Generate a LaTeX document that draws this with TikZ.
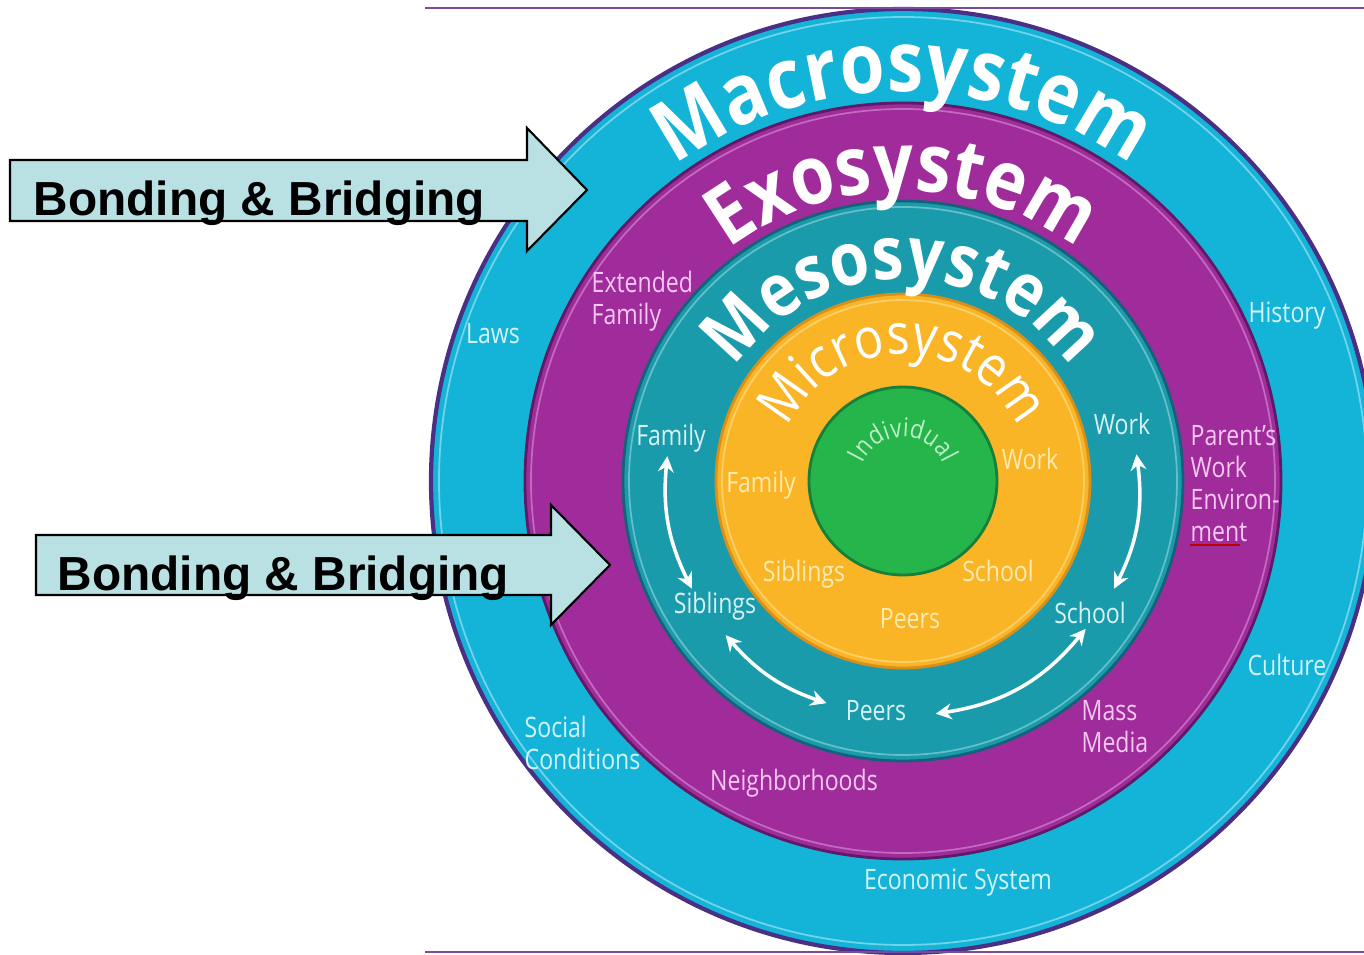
\documentclass[tikz,border=0pt]{standalone}
\usepackage{fontspec}
\setsansfont{Liberation Sans}
\newfontfamily\ringfont[FakeStretch=0.82]{Open Sans}
\newfontfamily\titlefont[FakeStretch=0.86]{Open Sans}
\usetikzlibrary{decorations.text,arrows.meta}

\definecolor{macroc}{HTML}{14B4D9}
\definecolor{macroedge}{HTML}{4B2F85}
\definecolor{exoc}{HTML}{A02C9C}
\definecolor{exoedge}{HTML}{5E1A66}
\definecolor{mesoc}{HTML}{1A9BAB}
\definecolor{mesoedge}{HTML}{17607A}
\definecolor{microc}{HTML}{FAB526}
\definecolor{microedge}{HTML}{D98F1A}
\definecolor{indc}{HTML}{25B54B}
\definecolor{indedge}{HTML}{16803A}
\definecolor{macrotxt}{HTML}{D2F3F8}
\definecolor{exotxt}{HTML}{F6C8F1}
\definecolor{mesotxt}{HTML}{D6F2F4}
\definecolor{microtxt}{HTML}{FDEBB0}
\definecolor{indtxt}{HTML}{BDEFC8}
\definecolor{bbfill}{HTML}{B9E0E3}
\definecolor{rulec}{HTML}{7B4A9F}

% curved title: radius, font, text
\newcommand{\ringtitle}[3]{%
  \path[decorate,decoration={text along path,text align=center,
    text={|\titlefont#2|#3}}]
    (c) ++(170:#1) arc[start angle=170,end angle=10,radius=#1];}

\begin{document}
\begin{tikzpicture}[
  lbl/.style={font=\ringfont\fontsize{8}{9.1}\selectfont,inner sep=0pt,align=left},
  link/.style={white,line width=1pt,{Stealth[length=4.5pt,width=4.5pt]}-{Stealth[length=4.5pt,width=4.5pt]}},
  bigarrow/.style={fill=bbfill,draw=black,line width=0.6pt},
  bbtext/.style={font=\sffamily\bfseries\fontsize{13.6}{16}\selectfont,inner sep=0pt,anchor=base west}]
\useasboundingbox (0,0) rectangle (13.64,9.55);
\coordinate (c) at (9.03,4.74);

% rings
\fill[macroc,draw=macroedge,line width=1.2pt] (c) circle[radius=4.72];
\draw[macrotxt!50!macroc,line width=0.5pt] (c) circle[radius=4.64];
\fill[exoc,draw=exoedge,line width=0.8pt] (c) circle[radius=3.78];
\draw[exotxt!40!exoc,line width=0.5pt] (c) circle[radius=3.72];
\fill[mesoc,draw=mesoedge,line width=0.8pt] (c) circle[radius=2.80];
\draw[mesotxt!40!mesoc,line width=0.5pt] (c) circle[radius=2.74];
\fill[microc,draw=microedge,line width=0.8pt] (c) circle[radius=1.87];
\draw[microtxt!50!microc,line width=0.5pt] (c) circle[radius=1.81];
\fill[indc,draw=indedge,line width=0.8pt] (c) circle[radius=0.94];

% titles
\ringtitle{3.89}{\bfseries\fontsize{24}{25}\selectfont\color{white}}{Macrosystem}
\ringtitle{2.90}{\bfseries\fontsize{23.2}{24}\selectfont\color{white}}{Exosystem}
\ringtitle{2.02}{\bfseries\fontsize{21}{22}\selectfont\color{white}}{Mesosystem}
\ringtitle{1.27}{\fontsize{16}{17}\selectfont\color{white}}{Microsystem}
\ringtitle{0.44}{\fontsize{7.4}{8}\selectfont\color{indtxt}}{Individual}

% macrosystem
\node[lbl,macrotxt] (laws) at (4.93,6.21) {Laws};
\node[lbl,macrotxt] (history) at (12.87,6.39) {History};
\node[lbl,macrotxt] (culture) at (12.87,2.90) {Culture};
\node[lbl,macrotxt,anchor=west] (social) at (5.24,2.12) {Social\\Conditions};
\node[lbl,macrotxt] (econ) at (9.58,0.72) {Economic System};

% exosystem
\node[lbl,exotxt,anchor=west] (extfam) at (5.91,6.54) {Extended\\Family};
\node[lbl,exotxt,anchor=west] (parent) at (11.90,4.71) {Parent’s\\Work\\Environ-\\ment};
\node[lbl,exotxt,anchor=west] (mass) at (10.81,2.285) {Mass\\Media};
\node[lbl,exotxt] (neigh) at (7.94,1.72) {Neighborhoods};
\draw[red!75!black,line width=0.5pt] (parent.south west) ++(0,-0.02) -- ++(0.5,0);

% mesosystem
\node[lbl,mesotxt] (famM) at (6.71,5.17) {Family};
\node[lbl,mesotxt] (sibM) at (7.15,3.49) {Siblings};
\node[lbl,mesotxt] (peerM) at (8.76,2.44) {Peers};
\node[lbl,mesotxt] (schM) at (10.90,3.42) {School};
\node[lbl,mesotxt] (workM) at (11.22,5.31) {Work};

% microsystem
\node[lbl,microtxt] (famI) at (7.61,4.70) {Family};
\node[lbl,microtxt] (sibI) at (8.04,3.81) {Siblings};
\node[lbl,microtxt] (peerI) at (9.10,3.36) {Peers};
\node[lbl,microtxt] (schI) at (9.98,3.84) {School};
\node[lbl,microtxt] (workI) at (10.30,4.96) {Work};

% links between the mesosystem settings
\path (c) ++(174:2.37) coordinate (a1) (c) ++(207:2.37) coordinate (a2)
      (c) ++(221:2.35) coordinate (b1) (c) ++(251:2.35) coordinate (b2)
      (c) ++(278:2.35) coordinate (d1) (c) ++(321:2.35) coordinate (d2)
      (c) ++(333:2.37) coordinate (e1) (c) ++(6.5:2.35) coordinate (e2);
\draw[link] (a1) to[bend right=16] (a2);
\draw[link] (b1) to[bend right=15] (b2);
\draw[link] (d1) to[bend right=21] (d2);
\draw[link] (e1) to[bend right=17] (e2);

% rules
\draw[rulec,line width=0.6pt] (4.25,9.47) -- (13.64,9.47);
\draw[rulec,line width=0.6pt] (4.25,0.03) -- (13.64,0.03);

% bonding arrows
\draw[bigarrow] (0.10,7.95) -- (5.27,7.95) -- (5.27,8.27) -- (5.87,7.65)
  -- (5.27,7.04) -- (5.27,7.34) -- (0.10,7.34) -- cycle;
\node[bbtext] (bb1) at (0.33,7.39) {Bonding \& Bridging};
\draw[bigarrow] (0.36,4.20) -- (5.51,4.20) -- (5.51,4.50) -- (6.10,3.90)
  -- (5.51,3.30) -- (5.51,3.60) -- (0.36,3.60) -- cycle;
\node[bbtext] (bb2) at (0.57,3.64) {Bonding \& Bridging};
\end{tikzpicture}
\end{document}
